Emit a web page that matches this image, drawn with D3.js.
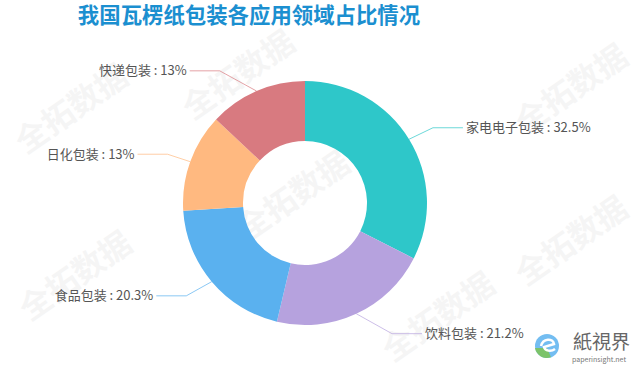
<!DOCTYPE html>
<html>
<head>
<meta charset="utf-8">
<script src="https://cdn.jsdelivr.net/npm/d3@7/dist/d3.min.js"></script>
<style>
  body { margin: 0; background: #fff; }
  svg { display: block; font-family: "Noto Sans CJK SC", "Noto Sans", sans-serif; }
</style>
</head>
<body>
<script>
// data
var categories = ["家电电子包装", "饮料包装", "食品包装", "日化包装", "快递包装"];
var shares = [32.5, 21.2, 20.3, 13, 13];
var colors = ["#2ec7c9", "#b6a2de", "#5ab1ef", "#ffb980", "#d87a80"];
var title = "我国瓦楞纸包装各应用领域占比情况";
var watermark = "全拓数据";

var width = 640, height = 370;
var cx = 305, cy = 203;
var inner = 62, outer = 122;
var len = 22, len2 = 30, ry = 164;

var svg = d3.select("body").append("svg")
	.attr("width", width)
	.attr("height", height);

// faint watermarks behind the chart
var marks = [[78, 118], [245, 84], [300, 205], [578, 98], [578, 250], [82, 285], [445, 326]];
marks.forEach(function(p) {
	svg.append("text")
		.attr("transform", "translate(" + p[0] + "," + p[1] + ") rotate(-35)")
		.attr("text-anchor", "middle")
		.attr("font-size", 32)
		.attr("font-weight", "bold")
		.attr("fill", "#000")
		.attr("opacity", 0.035)
		.text(watermark);
});

// title
svg.append("text")
	.attr("x", 249)
	.attr("y", 23)
	.attr("text-anchor", "middle")
	.attr("font-size", 21.4)
	.attr("font-weight", "bold")
	.attr("fill", "#1b8fd0")
	.text(title);

var data = categories.map(function(c, i) { return {name: c, value: shares[i], color: colors[i]}; });

var pie = d3.pie().sort(null).value(function(d) { return d.value; });
var arc = d3.arc().innerRadius(inner).outerRadius(outer);

var g = svg.append("g").attr("transform", "translate(" + cx + "," + cy + ")");

var slices = pie(data);

g.selectAll("path.slice")
	.data(slices)
	.enter().append("path")
	.attr("class", "slice")
	.attr("d", arc)
	.attr("fill", function(d) { return d.data.color; });

// label lines: radial segment then horizontal, elbow kept on an ellipse
slices.forEach(function(s) {
	var a = (s.startAngle + s.endAngle) / 2;
	var sx = Math.sin(a), sy = -Math.cos(a);
	var dir = sx >= 0 ? 1 : -1;
	var p0 = [outer * sx, outer * sy];
	var ey = (outer + len) * sy;
	var ex = dir * (outer + len) * Math.sqrt(Math.max(0, 1 - ey * ey / (ry * ry)));
	var p2 = [ex + dir * len2, ey];

	g.append("path")
		.attr("d", d3.line()([p0, [ex, ey], p2]))
		.attr("fill", "none")
		.attr("stroke", s.data.color)
		.attr("stroke-opacity", 0.7)
		.attr("stroke-width", 1);

	g.append("text")
		.attr("x", p2[0] + dir * 3)
		.attr("y", ey)
		.attr("dy", "0.35em")
		.attr("text-anchor", dir > 0 ? "start" : "end")
		.attr("font-size", 13)
		.attr("fill", "#555")
		.text(s.data.name + " : " + s.data.value + "%");
});

// logo, bottom right
var logo = svg.append("g").attr("transform", "translate(547,346)");
logo.append("circle").attr("r", 12).attr("fill", "#5ab1ef").attr("opacity", 0.85);
logo.append("path")
	.attr("d", "M-12,2 A12,12 0 0,0 4,11.3 L0,2 Z")
	.attr("fill", "#7cc36a");
logo.append("path")
	.attr("d", "M-6,0 C-4,-8 6,-8 7,-2 L-3,1 C-2,5 4,6 8,3")
	.attr("fill", "none")
	.attr("stroke", "#fff")
	.attr("stroke-width", 2.5);
svg.append("text")
	.attr("x", 573)
	.attr("y", 349)
	.attr("font-size", 19)
	.attr("fill", "#666")
	.attr("font-family", "Noto Sans CJK TC, sans-serif")
	.text("紙視界");
svg.append("text")
	.attr("x", 572)
	.attr("y", 362)
	.attr("font-size", 7)
	.attr("fill", "#777")
	.text("paperinsight.net");
</script>
</body>
</html>
